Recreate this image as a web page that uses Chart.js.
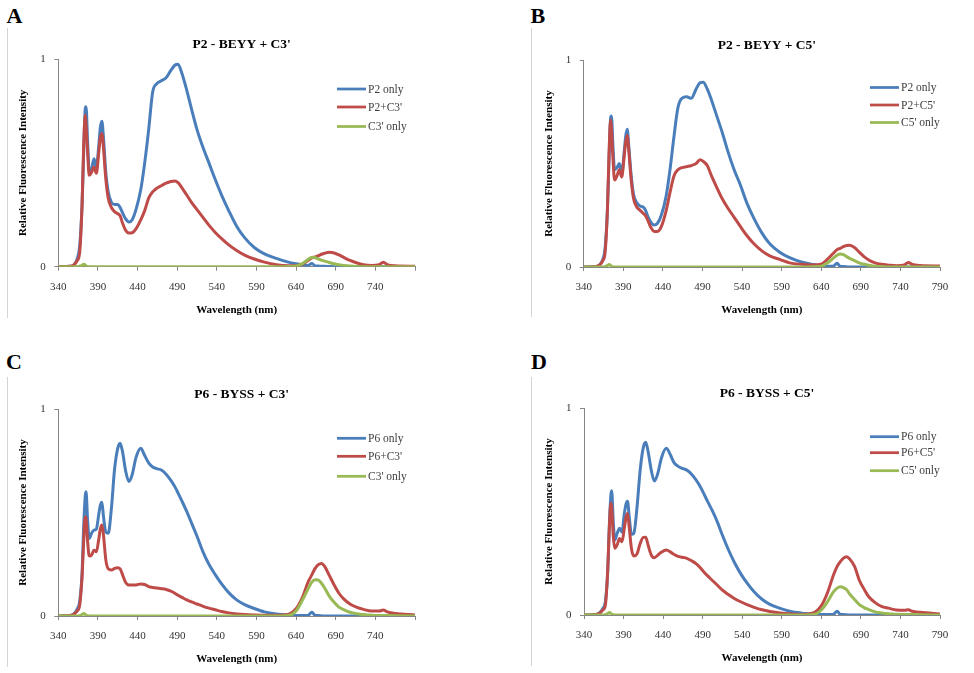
<!DOCTYPE html>
<html lang="en">
<head>
<meta charset="UTF-8"/>
<title>Relative fluorescence spectra</title>
<script src="https://cdn.jsdelivr.net/npm/chart.js@4.4.1/dist/chart.umd.min.js"></script>
<style>
  body{margin:0;background:#fff;width:974px;height:673px;position:relative;overflow:hidden;font-family:"Liberation Serif",serif}
  canvas{position:absolute}
  .letter{position:absolute;font-weight:bold;font-size:22px;line-height:1;color:#000}
  .edge{position:absolute;width:0;border-left:1px solid #d4d4d4}
</style>
</head>
<body>
<div class="edge" style="left:7px;top:28px;height:290px"></div>
<div class="edge" style="left:531px;top:28px;height:289px"></div>
<div class="edge" style="left:7px;top:377px;height:290px"></div>
<div class="edge" style="left:531px;top:377px;height:289px"></div>

<div class="letter" style="left:6.5px;top:4.5px">A</div>
<div class="letter" style="left:530.5px;top:4.5px">B</div>
<div class="letter" style="left:6px;top:351px">C</div>
<div class="letter" style="left:531px;top:351px">D</div>

<canvas id="chartA" width="487" height="336" style="left:0;top:0"></canvas>
<canvas id="chartB" width="487" height="336" style="left:487px;top:0"></canvas>
<canvas id="chartC" width="487" height="333" style="left:0;top:340px"></canvas>
<canvas id="chartD" width="487" height="333" style="left:487px;top:340px"></canvas>

<script>
// wavelength grid (nm), shared by every series
const wavelengths = [340,355,360,364,367,370,372,374,375,377,
  379,382,385,388,391,393,395,397,400,403,
  407,411,415,418,421,425,429,433,438,444,
  449,454,459,464,470,476,482,487,491,496,
  502,508,515,522,530,538,546,555,565,575,
  588,600,615,630,640,648,655,660,664,668,
  672,676,682,688,694,700,708,716,725,735,
  745,750,755,765,790];

// A: P2 - BEYY + C3'
const p2OnlyA = [0,0.002,0.01,0.04,0.1,0.3,0.55,0.76,0.77,0.6,
  0.46,0.47,0.52,0.48,0.58,0.67,0.70,0.62,0.45,0.36,
  0.31,0.30,0.30,0.285,0.26,0.23,0.215,0.225,0.275,0.37,
  0.5,0.66,0.84,0.88,0.895,0.91,0.945,0.97,0.975,0.93,
  0.85,0.76,0.66,0.58,0.5,0.42,0.345,0.27,0.195,0.14,
  0.09,0.062,0.04,0.022,0.014,0.009,0.006,0.016,0.004,0.003,
  0.002,0.002,0.001,0,0,0,0,0,0,0,
  0,0,0,0,0];
const p2C3A = [0,0.002,0.01,0.03,0.07,0.3,0.58,0.73,0.68,0.55,
  0.44,0.455,0.48,0.45,0.55,0.62,0.64,0.57,0.42,0.33,
  0.285,0.265,0.255,0.245,0.21,0.175,0.162,0.163,0.182,0.225,
  0.27,0.33,0.36,0.377,0.39,0.402,0.41,0.413,0.405,0.38,
  0.345,0.31,0.275,0.24,0.2,0.165,0.135,0.105,0.078,0.056,
  0.036,0.022,0.01,0.005,0.006,0.012,0.03,0.042,0.047,0.053,
  0.06,0.065,0.069,0.066,0.057,0.045,0.03,0.019,0.01,0.006,
  0.01,0.022,0.01,0.004,0.002];
const c3OnlyA = [0,0,0,0,0.002,0.007,0.012,0.008,0.004,0.001,
  0,0,0,0,0,0,0,0,0,0,
  0,0,0,0,0,0,0,0,0,0,
  0,0,0,0,0,0,0,0,0,0,
  0,0,0,0,0,0,0,0,0,0,
  0,0,0,0.001,0.004,0.015,0.035,0.045,0.043,0.037,
  0.032,0.027,0.02,0.014,0.009,0.006,0.003,0.001,0,0,
  0,0,0,0,0];

// B: P2 - BEYY + C5'
const p2OnlyB = [0,0.002,0.01,0.035,0.09,0.28,0.52,0.72,0.73,0.58,
  0.47,0.48,0.5,0.45,0.55,0.63,0.665,0.58,0.44,0.35,
  0.31,0.295,0.29,0.275,0.245,0.215,0.203,0.21,0.25,0.34,
  0.47,0.63,0.77,0.815,0.822,0.815,0.86,0.89,0.893,0.86,
  0.8,0.73,0.65,0.56,0.47,0.395,0.31,0.235,0.165,0.112,
  0.07,0.045,0.024,0.012,0.006,0.004,0.004,0.018,0.003,0.002,
  0.001,0,0,0,0,0,0,0,0,0,
  0,0,0,0,0];
const p2C5B = [0,0.002,0.01,0.03,0.07,0.28,0.55,0.71,0.67,0.52,
  0.42,0.44,0.47,0.435,0.53,0.6,0.635,0.56,0.42,0.33,
  0.29,0.275,0.26,0.248,0.225,0.19,0.172,0.172,0.195,0.27,
  0.36,0.44,0.47,0.48,0.485,0.49,0.5,0.518,0.51,0.49,
  0.435,0.385,0.33,0.285,0.24,0.195,0.152,0.112,0.078,0.054,
  0.036,0.02,0.013,0.01,0.014,0.038,0.065,0.084,0.09,0.098,
  0.104,0.105,0.094,0.072,0.05,0.034,0.02,0.013,0.009,0.006,
  0.01,0.022,0.012,0.007,0.005];
const c5OnlyB = [0,0,0,0,0.002,0.007,0.012,0.008,0.004,0.001,
  0,0,0,0,0,0,0,0,0,0,
  0,0,0,0,0,0,0,0,0,0,
  0,0,0,0,0,0,0,0,0,0,
  0,0,0,0,0,0,0,0,0,0,
  0,0,0,0.001,0.004,0.02,0.042,0.057,0.063,0.06,
  0.05,0.042,0.031,0.02,0.013,0.008,0.004,0.002,0,0,
  0,0,0,0,0];

// C: P6 - BYSS + C3'
const p6OnlyC = [0,0.003,0.012,0.035,0.07,0.21,0.43,0.58,0.6,0.46,
  0.375,0.4,0.415,0.42,0.49,0.535,0.55,0.48,0.405,0.4,
  0.52,0.71,0.81,0.834,0.794,0.7,0.65,0.68,0.765,0.81,
  0.775,0.74,0.72,0.712,0.705,0.685,0.655,0.625,0.595,0.555,
  0.505,0.45,0.385,0.315,0.25,0.2,0.155,0.113,0.078,0.055,
  0.035,0.02,0.01,0.005,0.003,0.002,0.003,0.018,0.003,0.002,
  0.001,0,0,0,0,0,0,0,0,0,
  0,0,0,0,0];
const p6C3C = [0,0.002,0.01,0.025,0.053,0.19,0.36,0.48,0.47,0.36,
  0.29,0.295,0.318,0.31,0.37,0.42,0.44,0.39,0.27,0.228,
  0.222,0.23,0.233,0.228,0.2,0.162,0.15,0.15,0.15,0.155,
  0.152,0.142,0.138,0.135,0.132,0.128,0.12,0.11,0.1,0.09,
  0.078,0.068,0.058,0.048,0.038,0.03,0.022,0.015,0.01,0.007,
  0.005,0.004,0.004,0.008,0.035,0.09,0.163,0.2,0.23,0.248,
  0.254,0.24,0.195,0.15,0.11,0.083,0.058,0.043,0.032,0.024,
  0.024,0.029,0.02,0.012,0.005];
const c3OnlyC = [0,0,0,0,0.002,0.007,0.012,0.008,0.004,0.001,
  0,0,0,0,0,0,0,0,0,0,
  0,0,0,0,0,0,0,0,0,0,
  0,0,0,0,0,0,0,0,0,0,
  0,0,0,0,0,0,0,0,0,0,
  0,0,0,0.002,0.024,0.077,0.13,0.165,0.175,0.174,
  0.158,0.135,0.095,0.066,0.043,0.031,0.018,0.011,0.007,0.004,
  0.003,0.003,0.002,0.001,0];

// D: P6 - BYSS + C5'
const p6OnlyD = [0,0.003,0.012,0.033,0.064,0.21,0.43,0.58,0.6,0.45,
  0.362,0.395,0.419,0.4,0.49,0.535,0.55,0.48,0.39,0.395,
  0.52,0.7,0.81,0.834,0.79,0.7,0.647,0.68,0.76,0.805,
  0.775,0.735,0.718,0.708,0.7,0.68,0.65,0.62,0.59,0.55,
  0.505,0.455,0.385,0.32,0.255,0.2,0.155,0.112,0.076,0.051,
  0.032,0.018,0.009,0.004,0.003,0.002,0.003,0.018,0.003,0.002,
  0.001,0,0,0,0,0,0,0,0,0,
  0,0,0,0,0];
const p6C5D = [0,0.002,0.01,0.025,0.048,0.22,0.42,0.54,0.52,0.38,
  0.322,0.34,0.37,0.354,0.42,0.47,0.49,0.43,0.32,0.285,
  0.295,0.345,0.375,0.376,0.338,0.29,0.277,0.288,0.304,0.314,
  0.305,0.292,0.283,0.279,0.274,0.262,0.247,0.228,0.21,0.19,
  0.168,0.146,0.12,0.1,0.08,0.064,0.05,0.037,0.025,0.017,
  0.01,0.006,0.003,0.01,0.045,0.11,0.19,0.235,0.258,0.275,
  0.282,0.27,0.235,0.168,0.125,0.088,0.06,0.042,0.033,0.024,
  0.023,0.025,0.018,0.013,0.005];
const c5OnlyD = [0,0,0,0,0.002,0.007,0.012,0.008,0.004,0.001,
  0,0,0,0,0,0,0,0,0,0,
  0,0,0,0,0,0,0,0,0,0,
  0,0,0,0,0,0,0,0,0,0,
  0,0,0,0,0,0,0,0,0,0,
  0,0,0,0.002,0.024,0.065,0.11,0.13,0.137,0.132,
  0.122,0.1,0.075,0.05,0.036,0.026,0.015,0.01,0.006,0.004,
  0.003,0.003,0.002,0.001,0];

const xMin = 340, xMax = 790, xStep = 50;
const yTicks = [0, 1];

const BLUE = '#4A7EBB', RED = '#BE4B48', GREEN = '#98B954';
const AXIS = '#868686';
const FONT = "'Liberation Serif', serif";

Chart.defaults.font.family = FONT;

// title above the plot and the legend that sits inside the plot area
const panelDecor = {
  id: 'panelDecor',
  afterDatasetsDraw(chart, args, opts) {
    const {ctx, chartArea: a} = chart;
    ctx.save();
    ctx.fillStyle = '#000';
    ctx.font = 'bold 13.5px ' + FONT;
    ctx.textAlign = 'center';
    ctx.textBaseline = 'middle';
    ctx.fillText(opts.title, (a.left + a.right) / 2 + 5, a.top - 14.7);
    ctx.font = '11.5px ' + FONT;
    ctx.textAlign = 'left';
    chart.data.datasets.forEach((ds, i) => {
      const y = a.top + opts.rows[i];
      const x0 = a.right + opts.legendX;
      ctx.strokeStyle = ds.borderColor;
      ctx.lineWidth = 2.75;
      ctx.beginPath();
      ctx.moveTo(x0, y);
      ctx.lineTo(x0 + 29, y);
      ctx.stroke();
      ctx.fillStyle = '#404040';
      ctx.fillText(ds.label, x0 + 31, y + 0.5);
    });
    ctx.restore();
  }
};

function toPoints(values) {
  return values.map((v, i) => ({x: wavelengths[i], y: v}));
}

// box = chart area inside the canvas: left, top, right, bottom
function makePanel(id, box, title, names, series, showLast, legendX, rows) {
  const cv = document.getElementById(id);
  const yAxisW = 50, xAxisH = 52;
  const colors = [BLUE, RED, GREEN];
  const tickFont = {family: FONT, size: 11};
  const titleFont = {family: FONT, size: 11, weight: 'bold'};
  new Chart(cv, {
    type: 'line',
    data: {
      datasets: series.map((s, i) => ({
        label: names[i],
        data: toPoints(s),
        borderColor: colors[i],
        borderWidth: 3,
        pointRadius: 0,
        cubicInterpolationMode: 'monotone',
        fill: false,
        order: 3 - i
      }))
    },
    options: {
      responsive: false,
      animation: false,
      layout: {
        padding: {
          left: box[0] - yAxisW,
          top: box[1],
          right: cv.width - box[2],
          bottom: cv.height - box[3] - xAxisH
        }
      },
      plugins: {
        legend: {display: false},
        tooltip: {enabled: false},
        panelDecor: {title: title, legendX: legendX, rows: rows}
      },
      scales: {
        x: {
          type: 'linear',
          min: xMin,
          max: xMax,
          ticks: {
            stepSize: xStep,
            autoSkip: false,
            maxRotation: 0,
            padding: 10,
            color: '#333',
            font: tickFont,
            callback: v => (!showLast && v === xMax) ? '' : v
          },
          grid: {drawOnChartArea: false, tickLength: 4, color: AXIS},
          border: {color: AXIS},
          title: {display: true, text: 'Wavelength (nm)', color: '#000', font: titleFont,
                  padding: {top: 0, bottom: 2.1}},
          afterFit: s => { s.height = xAxisH; }
        },
        y: {
          min: yTicks[0],
          max: yTicks[1],
          afterBuildTicks: s => { s.ticks = yTicks.map(v => ({value: v})); },
          ticks: {padding: 8.5, color: '#333', font: tickFont},
          grid: {drawOnChartArea: false, tickLength: 4, color: AXIS},
          border: {color: AXIS},
          title: {display: true, text: 'Relative Fluorescence Intensity', color: '#000', font: titleFont,
                  padding: {top: 8.4, bottom: 0}},
          afterFit: s => { s.width = yAxisW; }
        }
      }
    },
    plugins: [panelDecor]
  });
}

makePanel('chartA', [58.3, 59, 415, 266.7], "P2 - BEYY + C3'",
  ['P2 only', "P2+C3'", "C3' only"], [p2OnlyA, p2C3A, c3OnlyA], false, -78, [30, 48, 67.5]);
makePanel('chartB', [96.7, 60, 453, 267], "P2 - BEYY + C5'",
  ['P2 only', "P2+C5'", "C5' only"], [p2OnlyB, p2C5B, c5OnlyB], true, -70, [27.5, 45, 62.5]);
makePanel('chartC', [58.3, 69, 415, 276], "P6 - BYSS + C3'",
  ['P6 only', "P6+C3'", "C3' only"], [p6OnlyC, p6C3C, c3OnlyC], false, -78, [29.3, 47.3, 67.3]);
makePanel('chartD', [97, 68, 453, 275], "P6 - BYSS + C5'",
  ['P6 only', "P6+C5'", "C5' only"], [p6OnlyD, p6C5D, c5OnlyD], true, -70, [28.7, 44.7, 62.7]);
</script>
</body>
</html>
